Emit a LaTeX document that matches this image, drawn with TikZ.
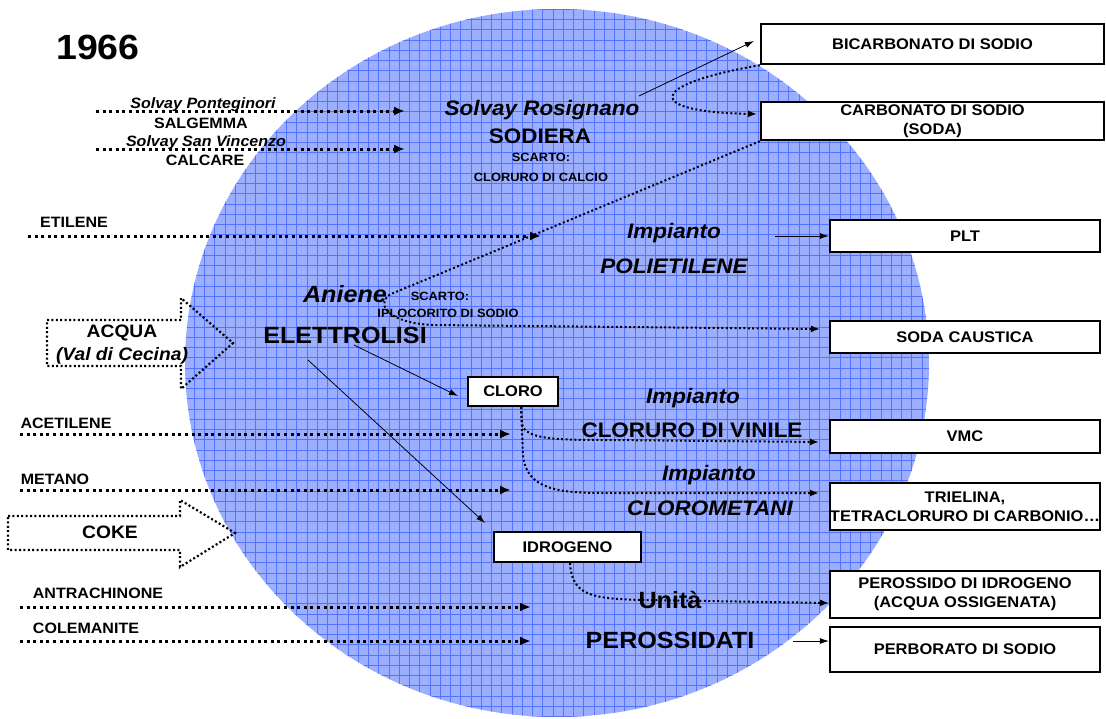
\documentclass[tikz,border=0pt]{standalone}
\usepackage{fontspec}
\setmainfont{Liberation Sans}[FakeStretch=1.07]
\usetikzlibrary{arrows.meta}
\definecolor{discfill}{RGB}{156,175,255}
\definecolor{discgrid}{RGB}{82,114,255}

\tikzset{
  txt/.style={inner sep=0pt, text height=10.8pt, text depth=0pt,
    font=\bfseries\fontsize{15}{18}\selectfont},
  txtit/.style={txt, font=\bfseries\itshape\fontsize{15}{18}\selectfont},
  small/.style={inner sep=0pt, text height=8.64pt, text depth=0pt,
    font=\bfseries\fontsize{12}{14}\selectfont},
  mid/.style={inner sep=0pt, text height=15.1pt, text depth=0pt,
    font=\bfseries\fontsize{21}{25}\selectfont},
  midit/.style={mid, font=\bfseries\itshape\fontsize{21}{25}\selectfont},
  large/.style={inner sep=0pt, text height=16.9pt, text depth=0pt,
    font=\bfseries\fontsize{23.5}{28}\selectfont},
  largeit/.style={large, font=\bfseries\itshape\fontsize{23.5}{28}\selectfont},
  blocktxt/.style={inner sep=0pt, text height=12.96pt, text depth=0pt,
    font=\bfseries\fontsize{18}{22}\selectfont},
  blocktxtit/.style={blocktxt, font=\bfseries\itshape\fontsize{18}{22}\selectfont},
  yeartxt/.style={inner sep=0pt, text height=25.2pt, text depth=0pt,
    font=\bfseries\fontsize{35}{40}\selectfont},
  outbox/.style={draw, line width=2.4pt, fill=white, inner sep=0pt, align=center,
    font=\bfseries\fontsize{15.4}{19}\selectfont},
  inarrow/.style={line width=3pt, dash pattern=on 3pt off 3.6pt,
    -{Latex[length=11pt,width=9pt]}},
  outarrow/.style={line width=2pt, dash pattern=on 2pt off 2.4pt,
    -{Latex[length=9pt,width=7pt]}},
  solarrow/.style={line width=0.8pt, -{Latex[length=9pt,width=6pt]}},
  blockarrow/.style={line width=2.2pt, dash pattern=on 2pt off 2.4pt, line join=miter},
}

\begin{document}
\begin{tikzpicture}[x=1pt, y=-1pt]
\useasboundingbox (0,0) rectangle (1106,718);

% the plant area: hatched blue disc
\begin{scope}
  \clip (557,363) ellipse [x radius=372pt, y radius=354pt];
  \fill[discfill] (180,0) rectangle (935,718);
  \foreach \i in {0,...,75} {
    \draw[discgrid, line width=1pt] (184+\i*10.25,0) -- (184+\i*10.25,718);
  }
  \foreach \j in {0,...,71} {
    \draw[discgrid, line width=1pt] (180,\j*10.25-1) -- (935,\j*10.25-1);
  }
\end{scope}

% title
\node[yeartxt] (year) at (98,47) {1966};

% raw materials entering from the left
\node[txtit] (ponte) at (203,103) {Solvay Ponteginori};
\node[txt] (salg) at (201,123) {SALGEMMA};
\node[txtit] (sanv) at (206,141) {Solvay San Vincenzo};
\node[txt] (calc) at (205,160) {CALCARE};
\node[txt] (etil) at (74,222) {ETILENE};
\node[txt] (acet) at (66,423) {ACETILENE};
\node[txt] (meta) at (55,479) {METANO};
\node[txt] (antr) at (98,593) {ANTRACHINONE};
\node[txt] (cole) at (86,628) {COLEMANITE};

\coordinate (a1s) at (96,111);  \coordinate (a1e) at (405,111);
\coordinate (a2s) at (96,149);  \coordinate (a2e) at (405,149);
\coordinate (a3s) at (28,236);  \coordinate (a3e) at (541,236);
\coordinate (a4s) at (20,434);  \coordinate (a4e) at (511,434);
\coordinate (a5s) at (20,490);  \coordinate (a5e) at (511,490);
\coordinate (a6s) at (20,607);  \coordinate (a6e) at (531,607);
\coordinate (a7s) at (20,641);  \coordinate (a7e) at (531,641);
\foreach \k in {1,...,7} { \draw[inarrow] (a\k s) -- (a\k e); }

% block arrows: water and coke
\draw[blockarrow] (47,320) -- (181,320) -- (181,298) -- (233,343) -- (181,389)
  -- (181,366) -- (47,366) -- cycle;
\node[blocktxt] (acqua) at (122,331) {ACQUA};
\node[blocktxtit] (cecina) at (122,354) {(Val di Cecina)};
\draw[blockarrow] (8,516) -- (180,516) -- (180,500) -- (235,533) -- (180,567)
  -- (180,550) -- (8,550) -- cycle;
\node[blocktxt] (coke) at (110,532) {COKE};

% plants
\node[midit] (rosig) at (542,108) {Solvay Rosignano};
\node[mid] (sodiera) at (540,136) {SODIERA};
\node[small] (scarto1) at (541,157) {SCARTO:};
\node[small] (cacl) at (541,177) {CLORURO DI CALCIO};
\node[midit] (imp1) at (674,231) {Impianto};
\node[midit] (polie) at (674,266) {POLIETILENE};
\node[largeit] (aniene) at (345,294) {Aniene};
\node[large] (elettro) at (345,335) {ELETTROLISI};
\node[small] (scarto2) at (440,296) {SCARTO:};
\node[small] (iplo) at (448,313) {IPLOCORITO DI SODIO};
\node[midit] (imp2) at (693,396) {Impianto};
\node[mid] (cvin) at (692,430) {CLORURO DI VINILE};
\node[midit] (imp3) at (709,473) {Impianto};
\node[midit] (clmet) at (710,508) {CLOROMETANI};
\node[large] (unita) at (670,600) {Unità};
\node[large] (perossi) at (670,640) {PEROSSIDATI};

% intermediate products
\node[outbox, minimum width=90pt, minimum height=29pt] (cloro) at (513,391.5) {CLORO};
\node[outbox, minimum width=147pt, minimum height=30pt] (idro) at (567.5,547) {IDROGENO};

% final products
\node[outbox, minimum width=343pt, minimum height=40pt] (bic) at (932.5,44) {BICARBONATO DI SODIO};
\node[outbox, minimum width=343pt, minimum height=38pt] (carb) at (932.5,121) {CARBONATO DI SODIO\\(SODA)};
\node[outbox, minimum width=270pt, minimum height=32pt] (plt) at (965,236) {PLT};
\node[outbox, minimum width=270pt, minimum height=32pt] (soda) at (965,337) {SODA CAUSTICA};
\node[outbox, minimum width=270pt, minimum height=33pt] (vmc) at (965,436.5) {VMC};
\node[outbox, minimum width=270pt, minimum height=47pt] (triel) at (965,506.5) {TRIELINA,\\TETRACLORURO DI CARBONIO\ldots};
\node[outbox, minimum width=270pt, minimum height=47pt] (perox) at (965,594.5) {PEROSSIDO DI IDROGENO\\(ACQUA OSSIGENATA)};
\node[outbox, minimum width=270pt, minimum height=45pt] (perb) at (965,649.5) {PERBORATO DI SODIO};

% flows between plants and products
\coordinate (r1) at (639,96);   \coordinate (r2) at (754,41);
\draw[solarrow] (r1) -- (r2);
\coordinate (c1) at (757,114);
\draw[outarrow] (bic.south west) .. controls (645,85) and (645,112) .. (c1);
\coordinate (k1) at (391,294); \coordinate (k2) at (432,325); \coordinate (k3) at (820,329);
\draw[outarrow] (carb.south west) -- (k1) .. controls (377,301) and (382,322) .. (k2) -- (k3);
\coordinate (p1) at (775,236);
\draw[solarrow] (p1) -- (plt.west);
\coordinate (e1) at (354,345); \coordinate (e2) at (458,396);
\draw[solarrow] (e1) -- (e2);
\coordinate (e3) at (308,360); \coordinate (e4) at (485,523);
\draw[solarrow] (e3) -- (e4);
\coordinate (cl) at (521,407);
\coordinate (v1) at (819,442); \coordinate (t1) at (819,493);
\draw[outarrow] (cl) -- (522,424) .. controls (525,440) and (560,440) .. (610,440) -- (v1);
\draw[outarrow] (cl) -- (523,455) .. controls (526,490) and (560,493) .. (605,493) -- (t1);
\coordinate (h1) at (570,563); \coordinate (h2) at (829,603);
\draw[outarrow] (h1) .. controls (572,595) and (590,599) .. (645,600) -- (h2);
\coordinate (b1) at (793,641);
\draw[solarrow] (b1) -- (b1 -| perb.west);
\end{tikzpicture}
\end{document}
